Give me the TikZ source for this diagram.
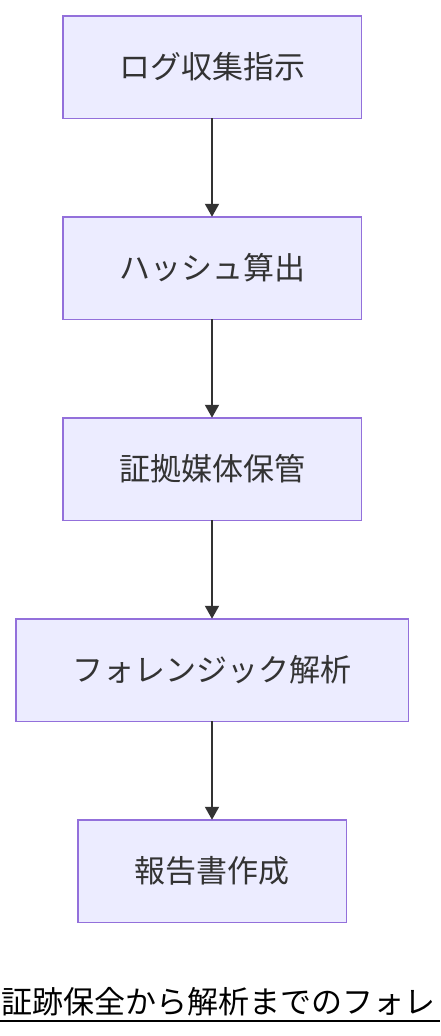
\documentclass[tikz,border=0pt]{standalone}
\usepackage{fontspec}
\usepackage{xcolor}
\usepackage{tikz}
\usetikzlibrary{shapes,arrows.meta,positioning}
\newfontfamily\jpfont{Noto Sans CJK JP}
\definecolor{flowfill}{HTML}{ECECFF}
\definecolor{flowline}{HTML}{9370DB}
\definecolor{flowtext}{HTML}{333333}

\begin{document}
\begin{tikzpicture}[
    x=1pt, y=1pt,
    node distance=98.5pt,
    box/.style={rectangle, draw=flowline, fill=flowfill, line width=1.5pt, outer sep=0pt, minimum width=298.5pt, minimum height=102.5pt, align=center, text=flowtext, font=\jpfont\fontsize{31pt}{36pt}\selectfont},
    arrow/.style={-{Triangle[length=13pt,width=14pt]}, line width=2pt, draw=flowtext}
]
    \useasboundingbox (0,0) rectangle (440,-1036);

    % Nodes
    \node[box] (collect) at (212,-67) {ログ収集指示};
    \node[box, below=of collect] (hash) {ハッシュ算出};
    \node[box, below=of hash] (storage) {証拠媒体保管};
    \node[box, below=of storage, minimum width=392.5pt] (forensic) {フォレンジック解析};
    \node[box, below=of forensic, minimum width=268.5pt] (report) {報告書作成};

    % Title
    \node[anchor=base west, inner sep=0pt, font=\jpfont\fontsize{31pt}{36pt}\selectfont] (title) at (1,-1013) {証跡保全から解析までのフォレ};
    \draw[line width=2pt] (0,-1021) -- (440,-1021);

    % Arrows
    \draw[arrow] (collect) -- (hash);
    \draw[arrow] (hash) -- (storage);
    \draw[arrow] (storage) -- (forensic);
    \draw[arrow] (forensic) -- (report);

\end{tikzpicture}
\end{document}
